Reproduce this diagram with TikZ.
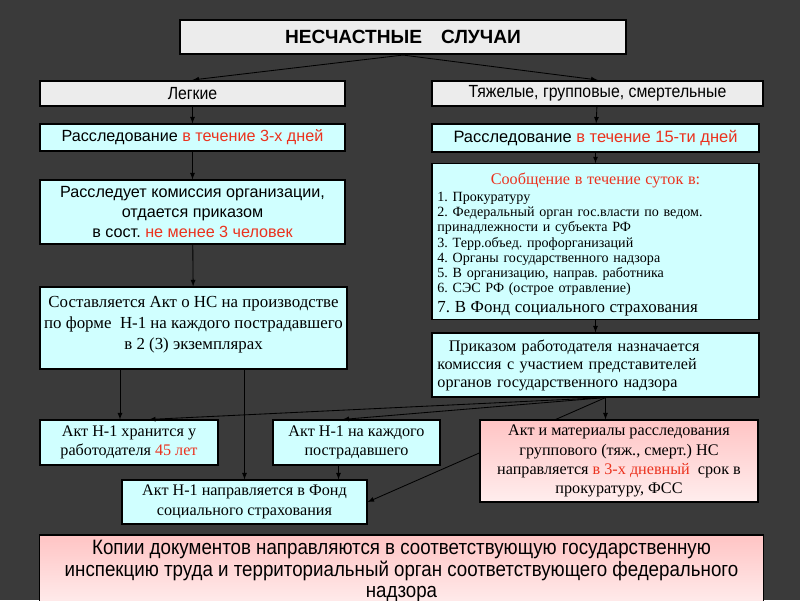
\documentclass[tikz,border=0pt]{standalone}
\usepackage{fontspec}
\setmainfont{Liberation Serif}
\newfontfamily\arialfont{Liberation Sans}
\newfontfamily\narrowfont{Liberation Sans}[FakeStretch=0.9]
\usetikzlibrary{positioning,arrows.meta}
\frenchspacing

\definecolor{bgdark}{RGB}{58,58,58}
\definecolor{boxgray}{RGB}{236,236,236}
\definecolor{cyanbox}{RGB}{208,255,255}
\definecolor{pinkbox}{RGB}{255,196,196}
\definecolor{accent}{RGB}{235,50,30}
\newcommand{\redtxt}[1]{\textcolor{accent}{#1}}

\begin{document}
\begin{tikzpicture}[x=0.025cm,y=-0.025cm,>=latex,
  card/.style={draw=black,line width=0.8pt,inner sep=2pt,align=center},
  graycard/.style={card,fill=boxgray,line width=1.5pt},
  bluecard/.style={card,fill=cyanbox},
  pinkcard/.style={card,top color=pinkbox,bottom color=pinkbox!30},
  link/.style={semithick,->}]
% Pixel grid of the slide: 800 x 600, y grows downwards.
\useasboundingbox (0,0) rectangle (800,600);
\fill[bgdark] (0,0) rectangle (800,600);

% Top level
\node[graycard,minimum width=11.15cm,minimum height=0.85cm,
  font={\arialfont\bfseries\fontsize{13.6}{15}\selectfont}] (title) at (403,37)
  {НЕСЧАСТНЫЕ\quad СЛУЧАИ};
\node[graycard,minimum width=7.625cm,minimum height=0.625cm,
  font={\narrowfont\fontsize{12.5}{13}\selectfont}] (light) at (192.5,93.5) {Легкие};
\node[graycard,minimum width=8.275cm,minimum height=0.625cm,
  font={\narrowfont\fontsize{12.5}{13}\selectfont}] (heavy) at (597.5,93.5)
  {Тяжелые, групповые, смертельные};

% Left column
\node[bluecard,minimum width=7.625cm,minimum height=0.675cm,
  font={\arialfont\fontsize{11.5}{14}\selectfont}] (lightInv) at (192.5,137.5)
  {Расследование \redtxt{в течение 3-х дней}};
\node[bluecard,minimum width=7.625cm,minimum height=1.6cm,
  font={\arialfont\fontsize{11.5}{14}\selectfont}] (commission) at (192.5,212)
  {Расследует комиссия организации,\\ отдается приказом\\ в сост. \redtxt{не менее 3 человек}};
\node[bluecard,minimum width=7.675cm,minimum height=2.05cm,
  font={\fontsize{12}{15}\selectfont}] (actForm) at (193.5,328)
  {Составляется Акт о НС на производстве\\ по форме\ \ Н-1 на каждого пострадавшего\\ в 2 (3) экземплярах\\[-8pt]\mbox{}};

% Right column
\node[bluecard,minimum width=8.175cm,minimum height=0.7cm,
  font={\arialfont\fontsize{11.7}{14}\selectfont}] (heavyInv) at (595.5,138)
  {Расследование \redtxt{в течение 15-ти дней}};
\node[card,fill=cyanbox,minimum width=8.175cm,minimum height=3.775cm,text width=7.9cm,
  font={\fontsize{10}{10.8}\selectfont}] (notice) at (595.5,241.5)
  {\centering\rule{0pt}{12.5pt}\redtxt{\fontsize{11.5}{14}\selectfont Сообщение в течение суток в:}\par
   \vspace{1.5pt}\raggedright 1. Прокуратуру\\
   2. Федеральный орган гос.власти по ведом.\\
   принадлежности и субъекта РФ\\
   3. Терр.объед. профорганизаций\\
   4. Органы государственного надзора\\
   5. В организацию, направ. работника\\
   6. СЭС РФ (острое отравление)\\[3.5pt]
   {\fontsize{12}{14}\selectfont 7.\ В Фонд социального страхования}\par
   \vspace{-4pt}};
\node[card,fill=cyanbox,minimum width=8.175cm,minimum height=1.6cm,text width=7.9cm,
  font={\fontsize{11.5}{12.8}\selectfont}] (order) at (595.5,365)
  {\raggedright\hspace*{0.7em}Приказом работодателя назначается\\
   комиссия с участием представителей\\
   органов государственного надзора\par};

% Lower boxes
\node[bluecard,minimum width=4.45cm,minimum height=1.125cm,
  font={\fontsize{11.5}{14}\selectfont}] (keep) at (129,442.5)
  {Акт Н-1 хранится у\\ работодателя \redtxt{45 лет}};
\node[bluecard,minimum width=4.175cm,minimum height=1.125cm,
  font={\fontsize{11.5}{14}\selectfont}] (each) at (356.5,442.5)
  {Акт Н-1 на каждого\\ пострадавшего};
\node[bluecard,minimum width=6.125cm,minimum height=1.1cm,
  font={\fontsize{11.5}{14}\selectfont}] (fund) at (244.5,502)
  {Акт Н-1 направляется в Фонд\\ социального страхования};
\node[pinkcard,minimum width=18.075cm,minimum height=1.8cm,
  font={\narrowfont\fontsize{14.8}{15}\selectfont}] (copies) at (401.5,571)
  {Копии документов направляются в соответствующую государственную\\
   инспекцию труда и территориальный орган соответствующего федерального\\
   надзора};

% Connectors
\draw[link] (title.south) -- (light.north);
\draw[link] (title.south) -- (heavy.north);
\draw[link] (light) -- (lightInv);
\draw[link] (lightInv) -- (commission);
\draw[link] (commission) -- (actForm);
\draw[link] (heavy) -- (heavyInv);
\draw[link] (heavyInv) -- (notice);
\draw[link] (notice) -- (order);
\coordinate (keepIn) at ([xshift=-0.225cm]keep.north);
\draw[link] (keepIn |- actForm.south) -- (keepIn);
\draw[link] (fund.north |- actForm.south) -- (fund.north);
\coordinate (eachOut) at ([xshift=-0.45cm]each.south);
\draw[link] (eachOut) -- (eachOut |- fund.north);
\coordinate (orderOut) at ([xshift=0.25cm]order.south);
\draw[link] (orderOut) -- ([xshift=0.5cm]keep.north);
\draw[link] (orderOut) -- ([xshift=-0.35cm]each.north);
\draw[link] (orderOut) -- (fund.east);

% Pink box sits over the line to the fund
\node[pinkcard,minimum width=6.95cm,minimum height=2.05cm,
  font={\fontsize{11.5}{13.6}\selectfont}] (groupAct) at (619,461)
  {Акт и материалы расследования\\ группового (тяж., смерт.) НС\\
   направляется \redtxt{в 3-х дневный}\ \ срок в\\ прокуратуру, ФСС};
\draw[link] (orderOut) -- (orderOut |- groupAct.north);
\end{tikzpicture}
\end{document}
